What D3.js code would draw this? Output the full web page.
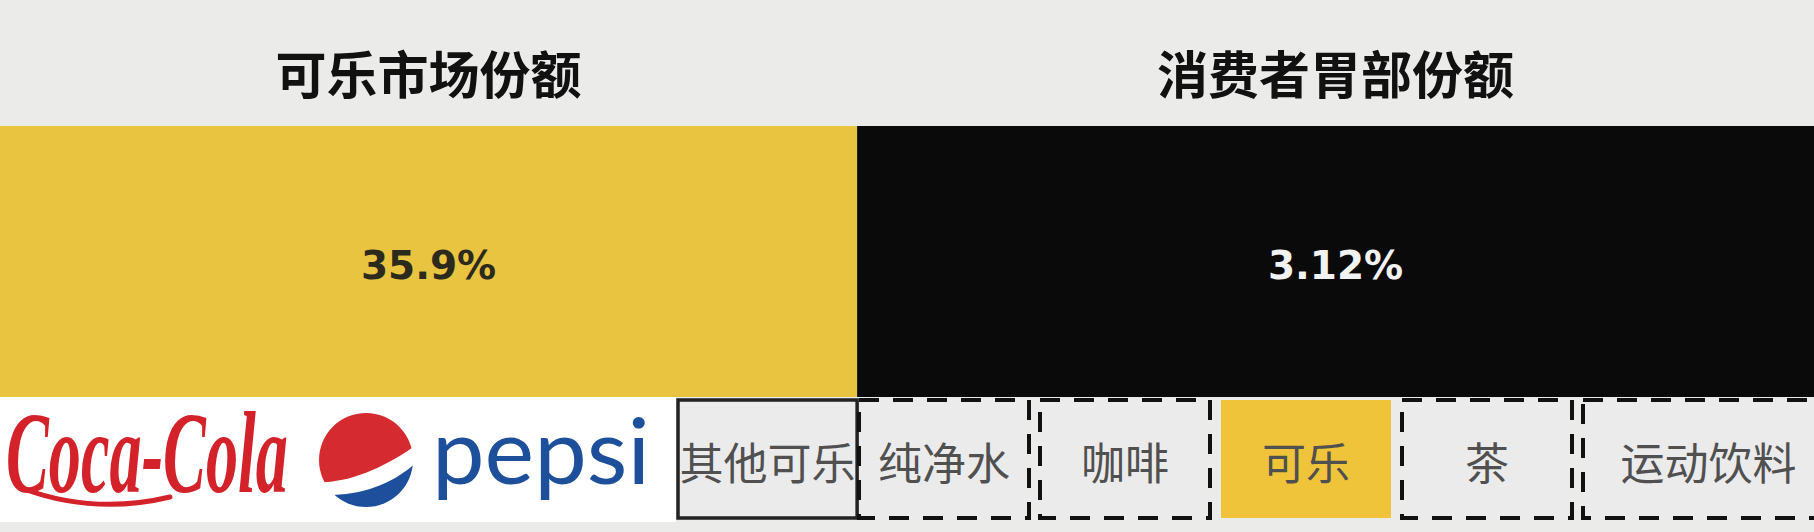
<!DOCTYPE html>
<html>
<head>
<meta charset="utf-8">
<script src="https://cdn.jsdelivr.net/npm/d3@7/dist/d3.min.js"></script>
<style>
  html, body { margin: 0; padding: 0; background: #ebebe9; }
  svg { display: block; }
</style>
</head>
<body>
<svg id="chart" width="1814" height="532"></svg>
<script>
// ---- data ----
const panels = ["可乐市场份额", "消费者胃部份额"];
const shares = [35.9, 3.12];
const shareLabels = ["35.9%", "3.12%"];
const drinkCategories = ["其他可乐", "纯净水", "咖啡", "可乐", "茶", "运动饮料"];
const brands = ["Coca-Cola", "pepsi"];

// ---- layout ----
const W = 1814, H = 532;
const svg = d3.select("#chart");
const cjk = "'Noto Sans CJK SC', 'Noto Sans', sans-serif";

// vertical bands
const yRow = d3.scaleOrdinal()
  .domain(["title", "block", "strip"])
  .range([0, 126, 397]);
const rowH = { title: 126, block: 271, strip: 125 };

// horizontal split of the two panels (fraction of the width)
const xFrac = d3.scaleLinear().domain([0, 1]).range([0, W]);
const panelEdges = [0, 0.4725, 1];
const panelColors = ["#e8c440", "#0a0a0a"];
const labelColors = ["#2c2a1c", "#f2f2f2"];

// background
svg.append("rect").attr("width", W).attr("height", H).attr("fill", "#ebebe9");

const pg = svg.selectAll("g.panel").data(panels).join("g").attr("class", "panel");

pg.append("rect")
  .attr("x", (d, i) => xFrac(panelEdges[i]))
  .attr("y", yRow("block"))
  .attr("width", (d, i) => xFrac(panelEdges[i + 1]) - xFrac(panelEdges[i]))
  .attr("height", rowH.block)
  .attr("fill", (d, i) => panelColors[i]);

pg.append("text")
  .attr("x", (d, i) => (xFrac(panelEdges[i]) + xFrac(panelEdges[i + 1])) / 2)
  .attr("y", yRow("title") + 72)
  .attr("text-anchor", "middle")
  .attr("dominant-baseline", "central")
  .attr("font-family", cjk)
  .attr("font-weight", 700)
  .attr("font-size", 51)
  .attr("fill", "#111")
  .text(d => d);

pg.append("text")
  .attr("x", (d, i) => (xFrac(panelEdges[i]) + xFrac(panelEdges[i + 1])) / 2)
  .attr("y", yRow("block") + rowH.block / 2 + 4)
  .attr("text-anchor", "middle")
  .attr("dominant-baseline", "central")
  .attr("font-family", "'DejaVu Sans', sans-serif")
  .attr("font-weight", 700)
  .attr("font-size", 39)
  .attr("fill", (d, i) => labelColors[i])
  .text((d, i) => shareLabels[i]);

// ---- bottom strip ----
const stripY = yRow("strip");
const xBox = d3.scaleBand()
  .domain(drinkCategories)
  .range([678, 1753])
  .paddingInner(0.0608);

// white logo area
svg.append("rect")
  .attr("x", 0).attr("y", stripY)
  .attr("width", xBox(drinkCategories[0]) - 2)
  .attr("height", rowH.strip)
  .attr("fill", "#ffffff");

// boxes: first one reaches the panel split, last one runs off the edge
const boxTop = stripY + 3, boxH = 118;
const last = drinkCategories.length - 1;
const boxW = (d, i) => i === last ? (W + 20 - xBox(d))
  : i === 0 ? (xFrac(panelEdges[1]) - xBox(d)) : xBox.bandwidth();
const bg = svg.selectAll("g.box").data(drinkCategories).join("g").attr("class", "box");

bg.append("rect")
  .attr("x", d => xBox(d))
  .attr("y", boxTop)
  .attr("width", boxW)
  .attr("height", boxH)
  .attr("fill", d => d === "可乐" ? "#f0c43a" : "#ebebeb")
  .attr("stroke", (d, i) => d === "可乐" ? "none" : (i === 0 ? "#222" : "#111"))
  .attr("stroke-width", (d, i) => i === 0 ? 3.5 : 4)
  .attr("stroke-dasharray", (d, i) => i === 0 ? null : "20 14");

bg.append("text")
  .attr("x", (d, i) => xBox(d) + boxW(d, i) / 2)
  .attr("y", boxTop + boxH / 2 + 2)
  .attr("text-anchor", "middle")
  .attr("dominant-baseline", "central")
  .attr("font-family", cjk)
  .attr("font-size", 44)
  .attr("fill", "#505050")
  .text(d => d);

// ---- brand logos (as text + simple shapes) ----
// Coca-Cola
svg.append("text")
  .attr("transform", `translate(6,${stripY + 95}) scale(1,1.45)`)
  .attr("font-family", "'Liberation Serif', serif")
  .attr("font-style", "italic")
  .attr("font-weight", 700)
  .attr("font-size", 80)
  .attr("textLength", 282)
  .attr("lengthAdjust", "spacingAndGlyphs")
  .attr("fill", "#d3222a")
  .text(brands[0]);
svg.append("path")
  .attr("d", `M 24 ${stripY + 92} Q 95 ${stripY + 118} 170 ${stripY + 100}`)
  .attr("fill", "none")
  .attr("stroke", "#d3222a")
  .attr("stroke-width", 5)
  .attr("stroke-linecap", "round");

// Pepsi globe
const gx = 366, gy = stripY + 63, gr = 47;
svg.append("clipPath").attr("id", "globeClip")
  .append("circle").attr("cx", gx).attr("cy", gy).attr("r", gr);
const gg = svg.append("g").attr("clip-path", "url(#globeClip)")
  .append("g").attr("transform", `translate(${gx},${gy})`);
gg.append("circle").attr("r", gr).attr("fill", "#ffffff");
gg.append("path")
  .attr("d", "M -60 22 C -20 26 20 8 60 -22 L 60 -60 L -60 -60 Z")
  .attr("fill", "#d52b30");
gg.append("path")
  .attr("d", "M -60 34 C -5 40 35 22 60 -8 L 60 60 L -60 60 Z")
  .attr("fill", "#1d4f9c");

svg.append("text")
  .attr("x", 432)
  .attr("y", stripY + 87)
  .attr("font-family", "Lato, 'DejaVu Sans', sans-serif")
  .attr("font-size", 92)
  .attr("textLength", 218)
  .attr("lengthAdjust", "spacingAndGlyphs")
  .attr("fill", "#1d4f9a")
  .text(brands[1]);
</script>
</body>
</html>
